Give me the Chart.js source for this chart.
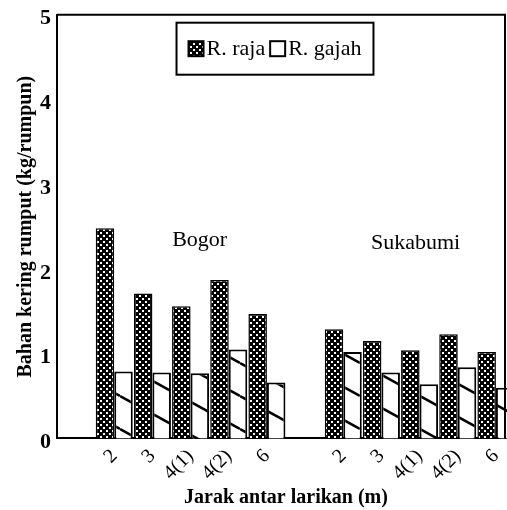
<!DOCTYPE html>
<html>
<head>
<meta charset="utf-8">
<script src="https://cdn.jsdelivr.net/npm/chart.js@4/dist/chart.umd.min.js"></script>
<style>
html,body{margin:0;padding:0;background:#fff;overflow:hidden;}
#wrap{width:522px;height:510px;}
</style>
</head>
<body>
<div id="wrap"><canvas id="barChart" width="522" height="510"></canvas></div>
<script>
// data
const categories=['', '2', '3', '4(1)', '4(2)', '6', '', '2', '3', '4(1)', '4(2)', '6'];
const rajaValues=[null, 2.48, 1.71, 1.56, 1.87, 1.47, null, 1.29, 1.15, 1.04, 1.23, 1.02];
const gajahValues=[null, 0.79, 0.78, 0.77, 1.05, 0.66, null, 1.02, 0.78, 0.64, 0.84, 0.60];
const seriesNames=['R. raja', 'R. gajah'];
const yTicks=[0, 1, 2, 3, 4, 5];
const siteNames=['Bogor', 'Sukabumi'];

const serif='"Liberation Serif", "DejaVu Serif", serif';

function dotPattern(){
    const c=document.createElement('canvas');
    c.width=6; c.height=6;
    const g=c.getContext('2d');
    g.fillStyle='#000';
    g.fillRect(0,0,6,6);
    g.fillStyle='#fff';
    g.fillRect(1,1,2,2);
    g.fillRect(4,4,2,2);
    return g.createPattern(c,'repeat');
}
function hatchPattern(){
    const c=document.createElement('canvas');
    c.width=60; c.height=33;
    const g=c.getContext('2d');
    g.fillStyle='#fff';
    g.fillRect(0,0,60,33);
    g.strokeStyle='#000';
    g.lineWidth=2.5;
    [-33,0,33].forEach(off=>{
        g.beginPath();
        g.moveTo(0,off);
        g.lineTo(60,off+33);
        g.stroke();
    });
    return g.createPattern(c,'repeat');
}

const ctx=document.getElementById('barChart').getContext('2d');

// frame, site labels and boxed legend
const extras={
    id:'extras',
    afterDraw(chart){
        const c=chart.ctx, a=chart.chartArea;
        const xs=chart.scales.x, ys=chart.scales.y;
        c.save();
        c.strokeStyle='#000';
        c.lineWidth=2;
        const rightX=Math.min(a.right, 505);
        c.beginPath();
        c.moveTo(a.left, a.top);
        c.lineTo(rightX, a.top);
        c.lineTo(rightX, a.bottom);
        c.stroke();

        c.fillStyle='#000';
        c.font='22px '+serif;
        c.textAlign='center';
        c.textBaseline='middle';
        c.fillText(siteNames[0], (xs.getPixelForValue(3)+xs.getPixelForValue(4))/2-10, ys.getPixelForValue(2.34));
        c.fillText(siteNames[1], xs.getPixelForValue(9)-4, ys.getPixelForValue(2.30));

        // legend
        c.font='22px '+serif;
        c.textAlign='left';
        const box=15, gap=3, pad=12;
        const w0=c.measureText(seriesNames[0]).width, w1=c.measureText(seriesNames[1]).width;
        const total=box+gap+w0+5+box+gap+w1;
        let x=(a.left+rightX)/2-6-total/2;
        const cy=ys.getPixelForValue(4.6);
        c.lineWidth=2;
        c.strokeRect(x-pad, cy-26, total+pad*2, 52);
        const fills=[chart.data.datasets[0].backgroundColor, '#fff'];
        [w0,w1].forEach((w,i)=>{
            c.fillStyle=fills[i];
            c.fillRect(x, cy-box/2, box, box);
            c.lineWidth=2;
            c.strokeRect(x, cy-box/2, box, box);
            c.fillStyle='#000';
            c.fillText(seriesNames[i], x+box+gap, cy+1);
            x+=box+gap+w+5;
        });
        c.restore();
    }
};

new Chart(ctx,{
    type:'bar',
    data:{
        labels:categories,
        datasets:[{
            label:seriesNames[0],
            data:rajaValues,
            backgroundColor:dotPattern(),
            borderColor:'#000',
            borderWidth:1.5,
            categoryPercentage:0.97,
            barPercentage:1.0,
            clip:false
        },{
            label:seriesNames[1],
            data:gajahValues,
            backgroundColor:hatchPattern(),
            borderColor:'#000',
            borderWidth:2,
            categoryPercentage:0.97,
            barPercentage:1.0,
            clip:false
        }]
    },
    options:{
        responsive:false,
        animation:false,
        layout:{padding:{top:0, right:7, left:14, bottom:0}},
        plugins:{
            legend:{display:false},
            tooltip:{enabled:false}
        },
        scales:{
            x:{
                grid:{display:false, drawTicks:false},
                border:{color:'#000', width:2},
                ticks:{
                    color:'#000',
                    font:{family:serif, size:20},
                    maxRotation:45,
                    minRotation:45,
                    padding:6,
                    autoSkip:false
                },
                title:{
                    display:true,
                    text:'Jarak antar larikan (m)',
                    color:'#000',
                    font:{family:serif, size:20, weight:'bold'},
                    padding:{top:-5, bottom:0}
                }
            },
            y:{
                min:0,
                max:5,
                afterBuildTicks(scale){
                    scale.ticks=yTicks.map(v=>({value:v}));
                },
                grid:{display:false, drawTicks:false},
                border:{color:'#000', width:2},
                ticks:{
                    color:'#000',
                    font:{family:serif, size:22, weight:'bold', lineHeight:0.8},
                    padding:6,
                    labelOffset:4
                },
                title:{
                    display:true,
                    text:'Bahan kering rumput (kg/rumpun)',
                    color:'#000',
                    font:{family:serif, size:20, weight:'bold'},
                    padding:{top:0, bottom:-4}
                }
            }
        }
    },
    plugins:[extras]
});
</script>
</body>
</html>
